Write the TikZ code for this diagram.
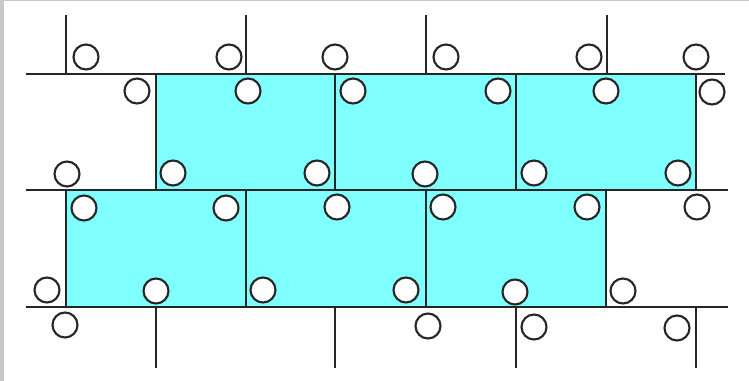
\documentclass[tikz,border=0pt]{standalone}
\usepackage{tikz}
\definecolor{tilecolor}{RGB}{128,255,255}
\definecolor{framecolor}{RGB}{200,200,200}
\tikzset{
  joint/.style={line width=1.2pt, black!85},
  ball/.style={draw=black!85, line width=1.2pt, fill=white},
}

\begin{document}
\begin{tikzpicture}[x=0.02cm, y=-0.02cm]

\useasboundingbox (0,0) rectangle (749,381);
\fill[white] (0,0) rectangle (749,381);

% ================= FRAME =================
\fill[framecolor] (0,0) rectangle (4,381);
\fill[framecolor] (0,0) rectangle (749,1.5);

% ================= TILES =================
\foreach \xa/\xb in {156/335,335/516,516/696}
  \fill[tilecolor] (\xa,74) rectangle (\xb,190);
\foreach \xa/\xb in {66/246,246/426,426/606}
  \fill[tilecolor] (\xa,190) rectangle (\xb,307);

% ================= JOINTS =================
% horizontal
\draw[joint] (26,74) -- (725,74);
\draw[joint] (26,190) -- (728,190);
\draw[joint] (26,307) -- (728,307);

% vertical
\foreach \px in {66,246,426,607}
  \draw[joint] (\px,15) -- (\px,74);
\foreach \px in {156,335,516,696}
  \draw[joint] (\px,74) -- (\px,190);
\foreach \px in {66,246,426,606}
  \draw[joint] (\px,190) -- (\px,307);
\foreach \px in {156,335,516,696}
  \draw[joint] (\px,307) -- (\px,368);

% ================= BALLS =================
% top row
\foreach \px/\py in {86/57,229/57,335/57,446/57,589/57,696/57}
  \draw[ball] (\px,\py) circle[radius=0.25cm];
% first course
\foreach \px/\py in {137/91,248/91,353/91,498/91,606/91,712/92,
                     67/174,173/173,317/173,425/174,534/173,678/173}
  \draw[ball] (\px,\py) circle[radius=0.25cm];
% second course
\foreach \px/\py in {84/208,226/208,337/207,443/207,587/207,697/207,
                     47/290,156/291,263/290,406/290,515/292,623/291}
  \draw[ball] (\px,\py) circle[radius=0.25cm];
% bottom row
\foreach \px/\py in {65/325,428/326,534/327,677/328}
  \draw[ball] (\px,\py) circle[radius=0.25cm];

\end{tikzpicture}
\end{document}
